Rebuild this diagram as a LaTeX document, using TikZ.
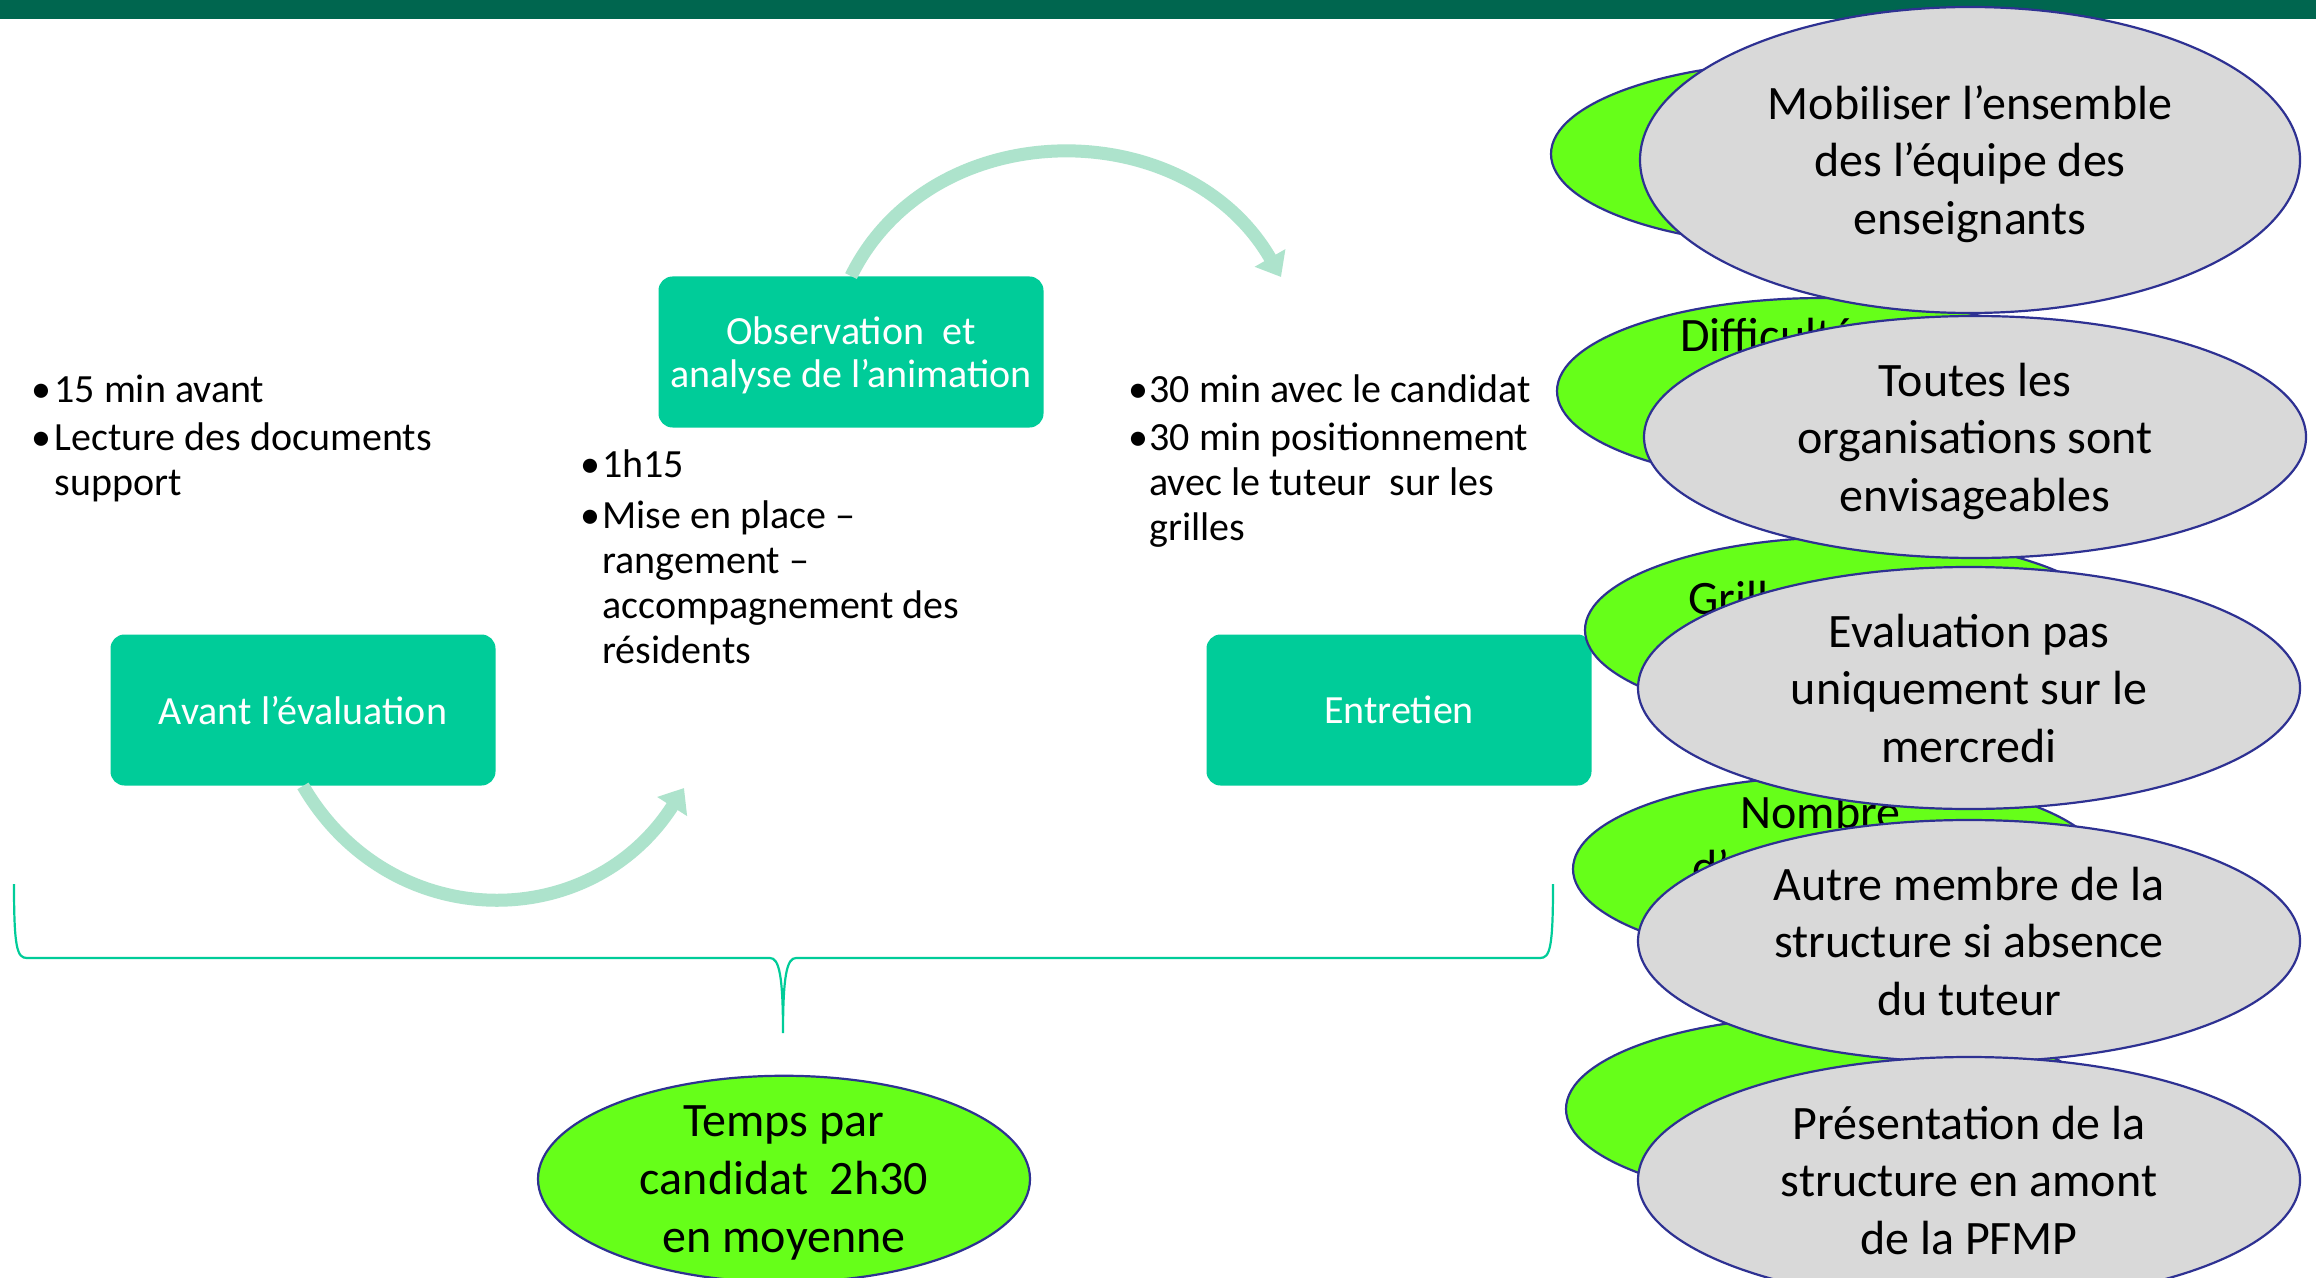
\documentclass[tikz,border=0pt]{standalone}
\usepackage{fontspec}
\setmainfont{Carlito}
\usetikzlibrary{arrows.meta,shapes.geometric}
\definecolor{topbar}{HTML}{00664F}
\definecolor{boxcol}{HTML}{00CC99}
\definecolor{arrowcol}{HTML}{ADE3CC}
\definecolor{limeg}{HTML}{66FF19}
\definecolor{grayell}{HTML}{D9D9D9}
\definecolor{navyline}{HTML}{2E3192}
\begin{document}
\begin{tikzpicture}[x=0.5pt,y=-0.5pt,
  stepbox/.style={fill=boxcol, rounded corners=7pt, minimum width=192.5pt, minimum height=75.5pt,
    text=white, font=\fontsize{20}{21.5}\selectfont, align=center, inner sep=0pt, text depth=0pt},
  bul/.style={anchor=base west, inner sep=0pt, font=\fontsize{20}{22.5}\selectfont, align=left},
  arr/.style={draw=arrowcol, line width=6.5pt, -{Triangle[length=11pt,width=17pt]}},
  bracel/.style={draw=boxcol, line width=1.1pt},
  greenel/.style={ellipse, draw=navyline, line width=1.1pt, fill=limeg, minimum width=266pt, minimum height=93pt, inner sep=0pt},
  grayel/.style={ellipse, draw=navyline, line width=1.1pt, fill=grayell, minimum width=331pt, minimum height=121pt, inner sep=0pt,
    font=\fontsize{24}{28.8}\selectfont, align=center, text depth=0pt},
  gtext/.style={anchor=base west, inner sep=0pt, font=\fontsize{24}{28.8}\selectfont}
]
\useasboundingbox (0,0) rectangle (2316,1278);
\clip (0,0) rectangle (2316,1278);
\fill[white] (0,0) rectangle (2316,1278);
\fill[topbar] (0,0) rectangle (2316,19);

% process boxes
\node[stepbox] (avant) at (303,710) {Avant l’évaluation};
\node[stepbox] (obs) at (851,352) {Observation\ \ et\\analyse de l’animation};
\node[stepbox] (entretien) at (1399,710) {Entretien};

% curved arrows
\coordinate (tip1) at (684,788);
\coordinate (tip2) at (1281,277);
\draw[arr] (avant.south) .. controls +(87,149) and +(-94,147) .. (tip1);
\draw[arr] (obs.north) .. controls +(81,-164) and +(-95,-165) .. (tip2);

% bullet lists (a multi-line node is placed by the baseline of its last line)
\node[bul] (b1) at (31,402) {•};
\node[bul] (t1) at (54,402) {15 min avant};
\node[bul] (b2) at (31,450) {•};
\node[bul] (t2) at (54,495) {Lecture des documents\\support};

\node[bul] (b3) at (580,477) {•};
\node[bul] (t3) at (602,477) {1h15};
\node[bul] (b4) at (580,528) {•};
\node[bul] (t4) at (602,663) {Mise en place –\\rangement –\\accompagnement des\\résidents};

\node[bul] (b5) at (1128,402) {•};
\node[bul] (t5) at (1149,402) {30 min avec le candidat};
\node[bul] (b6) at (1128,450) {•};
\node[bul] (t6) at (1149,540) {30 min positionnement\\avec le tuteur\ \ sur les\\grilles};

% brace
\coordinate (bl) at (14,884);
\coordinate (bm) at (783,1033);
\coordinate (br) at (1553,884);
\draw[bracel] (bl) .. controls (14,948) and (17,958) .. (27,958) -- (770,958)
  .. controls (779,958) and (783,975) .. (bm)
  .. controls (783,975) and (787,958) .. (796,958) -- (1540,958)
  .. controls (1550,958) and (1553,948) .. (br);

% total time ellipse
\node[greenel, minimum width=246pt, minimum height=98pt, font=\fontsize{24}{28.8}\selectfont, align=center, text depth=0pt]
  (temps) at (784,1179) {Temps par\\candidat\ \ 2h30\\en moyenne};

% green ellipses (behind)
\node[greenel] (g1) at (1817,154) {};
\node[greenel] (g2) at (1823,391) {};
\node[gtext] (g2t) at (1680,351) {Difficulté};
\node[greenel] (g3) at (1851,630) {};
\node[gtext] (g3t) at (1688,614) {Grilles};
\node[greenel] (g4) at (1839,869) {};
\node[gtext] (g4t) at (1740,828) {Nombre};
\node[gtext] (g4u) at (1692,883) {d’};
\node[greenel] (g5) at (1832,1109) {};

% gray ellipses (front)
\node[grayel, minimum width=330pt, minimum height=153pt] (e1) at (1970,160) {Mobiliser l’ensemble\\des l’équipe des\\enseignants};
\node[grayel] (e2) at (1975,437) {Toutes les\\organisations sont\\envisageables};
\node[grayel] (e3) at (1969,688) {Evaluation pas\\uniquement sur le\\mercredi};
\node[grayel] (e4) at (1969,941) {Autre membre de la\\structure si absence\\du tuteur};
\node[grayel, minimum height=123pt] (e5) at (1969,1180) {Présentation de la\\structure en amont\\de la PFMP};
\end{tikzpicture}
\end{document}
